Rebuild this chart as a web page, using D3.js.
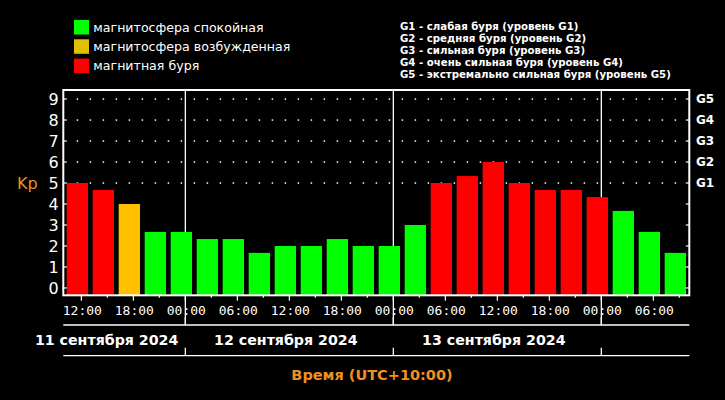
<!DOCTYPE html>
<html><head><meta charset="utf-8">
<script src="https://cdn.jsdelivr.net/npm/d3@7"></script>
<style>
html,body{margin:0;padding:0;background:#000;}
svg{display:block;}
</style></head>
<body>
<svg id="chart" width="725" height="400"></svg>
<script>
// ---------- data ----------
const times = [
  "2024-09-11T12:00Z","2024-09-11T15:00Z","2024-09-11T18:00Z","2024-09-11T21:00Z",
  "2024-09-12T00:00Z","2024-09-12T03:00Z","2024-09-12T06:00Z","2024-09-12T09:00Z",
  "2024-09-12T12:00Z","2024-09-12T15:00Z","2024-09-12T18:00Z","2024-09-12T21:00Z",
  "2024-09-13T00:00Z","2024-09-13T03:00Z","2024-09-13T06:00Z","2024-09-13T09:00Z",
  "2024-09-13T12:00Z","2024-09-13T15:00Z","2024-09-13T18:00Z","2024-09-13T21:00Z",
  "2024-09-14T00:00Z","2024-09-14T03:00Z","2024-09-14T06:00Z","2024-09-14T09:00Z"
];
const kpValues = [5, 4.67, 4, 2.67, 2.67, 2.33, 2.33, 1.67, 2, 2, 2.33, 2,
                  2, 3, 5, 5.33, 6, 5, 4.67, 4.67, 4.33, 3.67, 2.67, 1.67];
const kpStatus = ["storm","storm","active","quiet","quiet","quiet","quiet","quiet","quiet","quiet","quiet","quiet",
                  "quiet","quiet","storm","storm","storm","storm","storm","storm","storm","quiet","quiet","quiet"];
const tickLabels = ["12:00","18:00","00:00","06:00","12:00","18:00","00:00","06:00","12:00","18:00","00:00","06:00"];
const yTickLabels = ["0","1","2","3","4","5","6","7","8","9"];
const gLabels = ["G1","G2","G3","G4","G5"];
const gLevels = [5,6,7,8,9];
const dayLabels = ["11 сентября 2024","12 сентября 2024","13 сентября 2024"];
const dayStarts = ["2024-09-11T00:00Z","2024-09-12T00:00Z","2024-09-13T00:00Z","2024-09-14T00:00Z"];
const legendLabels = ["магнитосфера спокойная","магнитосфера возбужденная","магнитная буря"];
const legendKeys = ["quiet","active","storm"];
const gLegend = [
  "G1 - слабая буря (уровень G1)",
  "G2 - средняя буря (уровень G2)",
  "G3 - сильная буря (уровень G3)",
  "G4 - очень сильная буря (уровень G4)",
  "G5 - экстремально сильная буря (уровень G5)"
];
const axisTitle = "Время (UTC+10:00)";
const yTitle = "Kp";

// ---------- styles ----------
const barColor = {quiet:"#00ff00", active:"#ffc000", storm:"#ff0000"};
const legendColor = {quiet:"#00ff00", active:"#e0c000", storm:"#ff0000"};
const orange = "#f0901e";

const svg = d3.select("#chart");
svg.append("rect").attr("width",725).attr("height",400).attr("fill","#000");

const pLeft = 63.3, pRight = 689.3, pTop = 90, pBottom = 295.3;
const t0 = new Date(times[0]);
const xScale = d3.scaleUtc()
  .domain([d3.utcMinute.offset(t0, -125), d3.utcMinute.offset(t0, 70*60 + 9)])
  .range([pLeft, pRight]);
const yScale = d3.scaleLinear().domain([-0.35, 9.43]).range([pBottom, pTop]);

const step = xScale(d3.utcHour.offset(t0,3)) - xScale(t0);
const barW = step * 0.82;
const barShift = -4;

// grid dots at G levels
const dotTimes = d3.range(0, 48).map(i => d3.utcMinute.offset(t0, i*90));
gLevels.forEach(lv => {
  svg.append("g").selectAll("rect").data(dotTimes).join("rect")
    .attr("x", d => xScale(d) + barShift - 0.7)
    .attr("y", yScale(lv) - 0.7)
    .attr("width", 1.5).attr("height", 1.5)
    .attr("fill", "#fff")
    .attr("display", d => xScale(d)+barShift > pRight-4 ? "none" : null);
});

// day boundary lines
const boundaries = dayStarts.slice(1,4).map(d => new Date(d));
svg.append("g").selectAll("line").data(boundaries).join("line")
  .attr("x1", d => xScale(d)).attr("x2", d => xScale(d))
  .attr("y1", pTop).attr("y2", 325)
  .attr("stroke", "#fff").attr("stroke-width", 1.3);

// bars
svg.append("g").selectAll("rect").data(times).join("rect")
  .attr("x", d => xScale(new Date(d)) + barShift - barW/2)
  .attr("width", barW)
  .attr("y", (d,i) => yScale(kpValues[i]))
  .attr("height", (d,i) => pBottom - yScale(kpValues[i]))
  .attr("fill", (d,i) => barColor[kpStatus[i]]);

// frame
svg.append("rect").attr("x",pLeft).attr("y",pTop).attr("width",pRight-pLeft).attr("height",pBottom-pTop)
  .attr("fill","none").attr("stroke","#fff").attr("stroke-width",2);

// y ticks (inner) left and right
const yt = d3.range(0,10);
svg.append("g").selectAll("line").data(yt).join("line")
  .attr("x1", pLeft).attr("x2", pLeft+3.5).attr("y1", d=>yScale(d)).attr("y2", d=>yScale(d))
  .attr("stroke","#fff").attr("stroke-width",1.2);
svg.append("g").selectAll("line").data(yt).join("line")
  .attr("x1", pRight-3.5).attr("x2", pRight).attr("y1", d=>yScale(d)).attr("y2", d=>yScale(d))
  .attr("stroke","#fff").attr("stroke-width",1.2);

// y labels
svg.append("g").selectAll("text").data(yTickLabels).join("text")
  .attr("x", pLeft - 4.6).attr("y", (d,i) => yScale(i))
  .attr("dy","0.36em")
  .attr("text-anchor","end")
  .attr("font-family","DejaVu Sans").attr("font-size",16)
  .attr("fill","#fff").text(d=>d);

svg.append("text").attr("x",17).attr("y",188.7)
  .attr("font-family","DejaVu Sans").attr("font-size",16)
  .attr("fill",orange).text(yTitle);

// G labels right
svg.append("g").selectAll("text").data(gLabels).join("text")
  .attr("x", 696).attr("y", (d,i) => yScale(gLevels[i]))
  .attr("dy","0.36em")
  .attr("font-family","DejaVu Sans").attr("font-weight","bold").attr("font-size",12)
  .attr("fill","#fff").text(d=>d);

// x ticks
const tickTimes3 = times.map(d=>new Date(d));
svg.append("g").selectAll("line").data(tickTimes3).join("line")
  .attr("x1", d=>xScale(d)).attr("x2", d=>xScale(d))
  .attr("y1", pBottom).attr("y2", d => (d.getUTCHours()%6===0) ? pBottom+5.5 : pBottom+2.5)
  .attr("stroke","#fff").attr("stroke-width",1.2);

const tickTimes6 = tickLabels.map((l,i) => d3.utcHour.offset(t0, i*6));
svg.append("g").selectAll("text").data(tickLabels).join("text")
  .attr("x", (d,i) => xScale(tickTimes6[i]) + 1)
  .attr("y", 315)
  .attr("text-anchor","middle")
  .attr("font-family","DejaVu Sans Mono").attr("font-size",13)
  .attr("fill","#fff").text(d=>d);

// date axis
[325, 355.7].forEach(yy => {
  svg.append("line").attr("x1",pLeft).attr("x2",pRight).attr("y1",yy).attr("y2",yy)
    .attr("stroke","#fff").attr("stroke-width",1.3);
  svg.append("g").selectAll("line").data(boundaries).join("line")
    .attr("x1", d=>xScale(d)).attr("x2", d=>xScale(d))
    .attr("y1", yy-8).attr("y2", yy)
    .attr("stroke","#fff").attr("stroke-width",1.3);
});

const dayText = svg.append("g").selectAll("text").data(dayLabels).join("text")
  .attr("y", 344.5)
  .attr("text-anchor","middle")
  .attr("font-family","DejaVu Sans").attr("font-weight","bold").attr("font-size",14.2)
  .attr("fill","#fff").text(d=>d);
dayText.each(function(d,i){
  const a = Math.max(pLeft, xScale(new Date(dayStarts[i]))), b = xScale(new Date(dayStarts[i+1]));
  const w = this.getComputedTextLength();
  const cx = Math.min((a+b)/2 - 3.5, b - 7 - w/2);
  d3.select(this).attr("x", cx);
});

svg.append("text").attr("x", 372).attr("y", 380)
  .attr("text-anchor","middle")
  .attr("font-family","DejaVu Sans").attr("font-weight","bold").attr("font-size",14.5)
  .attr("fill",orange).text(axisTitle);

// legend left
const lg = svg.append("g");
legendLabels.forEach((l,i) => {
  lg.append("rect").attr("x",74).attr("y",20 + i*19.3).attr("width",15).attr("height",14.5)
    .attr("fill", legendColor[legendKeys[i]]);
  lg.append("text").attr("x",93.3).attr("y",31.5 + i*19.3)
    .attr("font-family","DejaVu Sans").attr("font-size",12.6)
    .attr("fill","#fff").text(l);
});

// legend right
svg.append("g").selectAll("text").data(gLegend).join("text")
  .attr("x", 400).attr("y", (d,i) => 30 + i*11.9)
  .attr("font-family","DejaVu Sans").attr("font-weight","bold").attr("font-size",10.2)
  .attr("fill","#fff").text(d=>d);
</script>
</body></html>
